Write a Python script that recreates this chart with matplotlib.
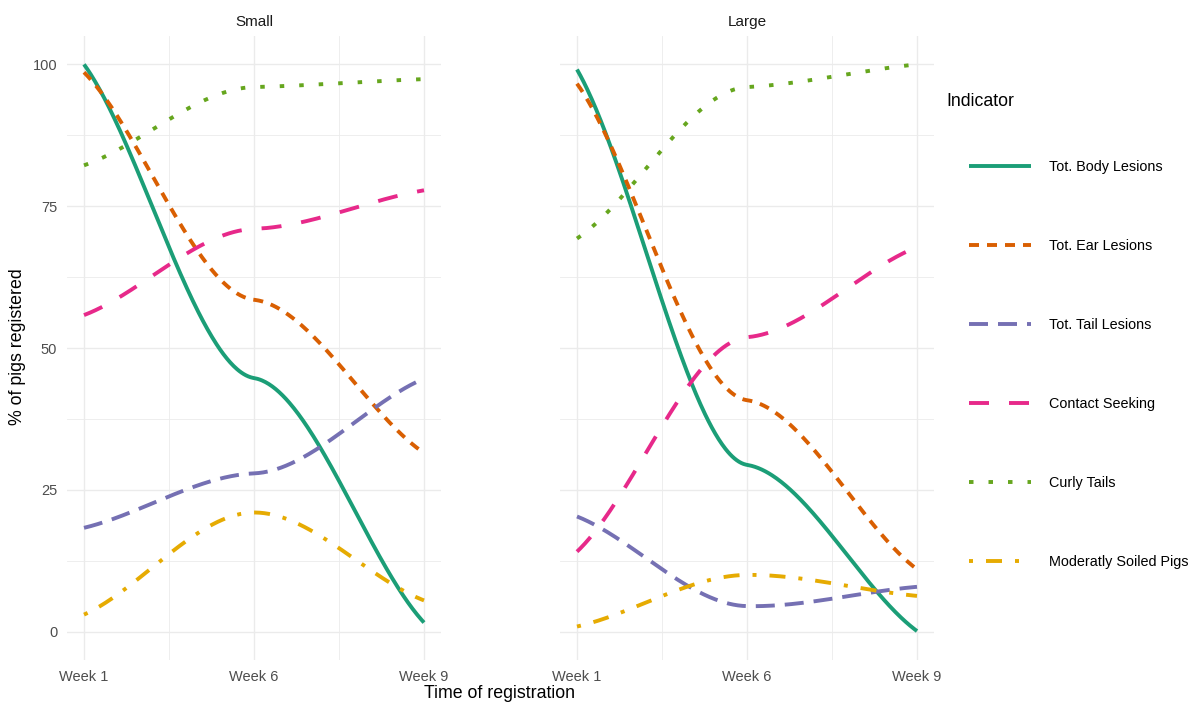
import numpy as np
import matplotlib
matplotlib.use("Agg")
import matplotlib.pyplot as plt
from matplotlib.lines import Line2D

# ----------------------------
# DATA
# ----------------------------
weeks = ["Week 1", "Week 6", "Week 9"]
panels = ["Small", "Large"]
indicators = ["Tot. Body Lesions", "Tot. Ear Lesions", "Tot. Tail Lesions",
              "Contact Seeking", "Curly Tails", "Moderatly Soiled Pigs"]

body_small = [100.0, 44.7, 1.6]
ear_small = [98.6, 58.5, 31.5]
tail_small = [18.3, 27.9, 44.6]
contact_small = [55.8, 71.0, 77.8]
curly_small = [82.2, 96.0, 97.4]
soiled_small = [3.0, 21.0, 5.5]

body_large = [99.1, 29.4, 0.1]
ear_large = [96.6, 40.8, 11.0]
tail_large = [20.3, 4.5, 7.9]
contact_large = [14.1, 51.9, 67.8]
curly_large = [69.3, 96.0, 100.0]
soiled_large = [0.9, 10.0, 6.3]

small_series = [body_small, ear_small, tail_small, contact_small, curly_small, soiled_small]
large_series = [body_large, ear_large, tail_large, contact_large, curly_large, soiled_large]

colors = ["#1B9E77", "#D95F02", "#7570B3", "#E7298A", "#66A61E", "#E6AB02"]
PX = 0.72  # points per pixel at 100 dpi
dashes = [None, (10, 8), (19, 10), (20, 20), (4.5, 15), (4, 13, 16, 13)]

END_TANGENT = 0.75   # share of the chord slope kept at the first/last week
MID_TANGENT = 0.1    # flattening at the middle week
LW = 2.8

plt.rcParams["font.family"] = ["Liberation Sans", "DejaVu Sans"]
plt.rcParams["lines.scale_dashes"] = False


# ----------------------------
# smoothing between the registrations (cubic Hermite, flat-ish knots)
# ----------------------------
def smooth_curve(xs, ys, n=150):
    xs = np.asarray(xs, float)
    ys = np.asarray(ys, float)
    m = np.zeros_like(ys)
    m[0] = END_TANGENT * (ys[1] - ys[0]) / (xs[1] - xs[0])
    m[-1] = END_TANGENT * (ys[-1] - ys[-2]) / (xs[-1] - xs[-2])
    for i in range(1, len(ys) - 1):
        m[i] = MID_TANGENT * (ys[i + 1] - ys[i - 1]) / (xs[i + 1] - xs[i - 1])
    ox, oy = [], []
    for i in range(len(ys) - 1):
        h = xs[i + 1] - xs[i]
        t = np.linspace(0, 1, n, endpoint=(i == len(ys) - 2))
        h00 = 2 * t ** 3 - 3 * t ** 2 + 1
        h10 = t ** 3 - 2 * t ** 2 + t
        h01 = -2 * t ** 3 + 3 * t ** 2
        h11 = t ** 3 - t ** 2
        oy.append(h00 * ys[i] + h10 * h * m[i] + h01 * ys[i + 1] + h11 * h * m[i + 1])
        ox.append(xs[i] + t * h)
    return np.concatenate(ox), np.concatenate(oy)


def style_line(line, d):
    line.set_solid_capstyle("butt")
    line.set_dash_capstyle("butt")
    if d is not None:
        line.set_dashes([v * PX for v in d])


# ----------------------------
# FIGURE
# ----------------------------
W, H = 1200, 707
fig = plt.figure(figsize=(W / 100, H / 100), dpi=100)
x_pos = np.arange(1, len(weeks) + 1)

panel_left = [67, 560]
for pi, (name, series) in enumerate(zip(panels, [small_series, large_series])):
    ax = fig.add_axes([panel_left[pi] / W, 47 / H, 374 / W, 624 / H])
    for vals, col, d in zip(series, colors, dashes):
        sx, sy = smooth_curve(x_pos, vals)
        ln, = ax.plot(sx, sy, color=col, lw=LW)
        style_line(ln, d)

    ax.set_xlim(0.9, 3.1)
    ax.set_ylim(-5, 105)
    ax.set_xticks(x_pos)
    ax.set_xticklabels(weeks)
    ax.set_xticks([1.5, 2.5], minor=True)
    ax.set_yticks([0, 25, 50, 75, 100])
    ax.set_yticks([12.5, 37.5, 62.5, 87.5], minor=True)
    ax.grid(which="major", color="#EBEBEB", lw=1.0)
    ax.grid(which="minor", color="#EBEBEB", lw=0.6)
    ax.set_axisbelow(True)
    for sp_ in ax.spines.values():
        sp_.set_visible(False)
    ax.tick_params(which="both", length=0, labelsize=10.5, labelcolor="#4D4D4D")
    ax.tick_params(axis="x", pad=7)
    ax.tick_params(axis="y", pad=7)
    if pi == 1:
        ax.set_yticklabels([])
    ax.set_title(name, fontsize=11, color="#1A1A1A", pad=7.5)

fig.text(500 / W, 1 - 694 / H, "Time of registration", ha="center", va="center", fontsize=12.8)
fig.text(18 / W, 1 - 347 / H, "% of pigs registered", ha="center", va="center",
         rotation=90, fontsize=12.8)

# legend
handles = []
for col, d in zip(colors, dashes):
    h = Line2D([], [], color=col, lw=LW)
    style_line(h, d)
    handles.append(h)
fig.text(946 / W, 1 - 101 / H, "Indicator", ha="left", va="center", fontsize=12.7)
fig.legend(handles, indicators, loc="upper left", bbox_to_anchor=(969 / W, 1 - 160 / H),
           frameon=False, fontsize=10.4, handlelength=4.3, handletextpad=1.25,
           labelspacing=4.5, borderpad=0, borderaxespad=0)

fig.savefig("out.png", dpi=100)
